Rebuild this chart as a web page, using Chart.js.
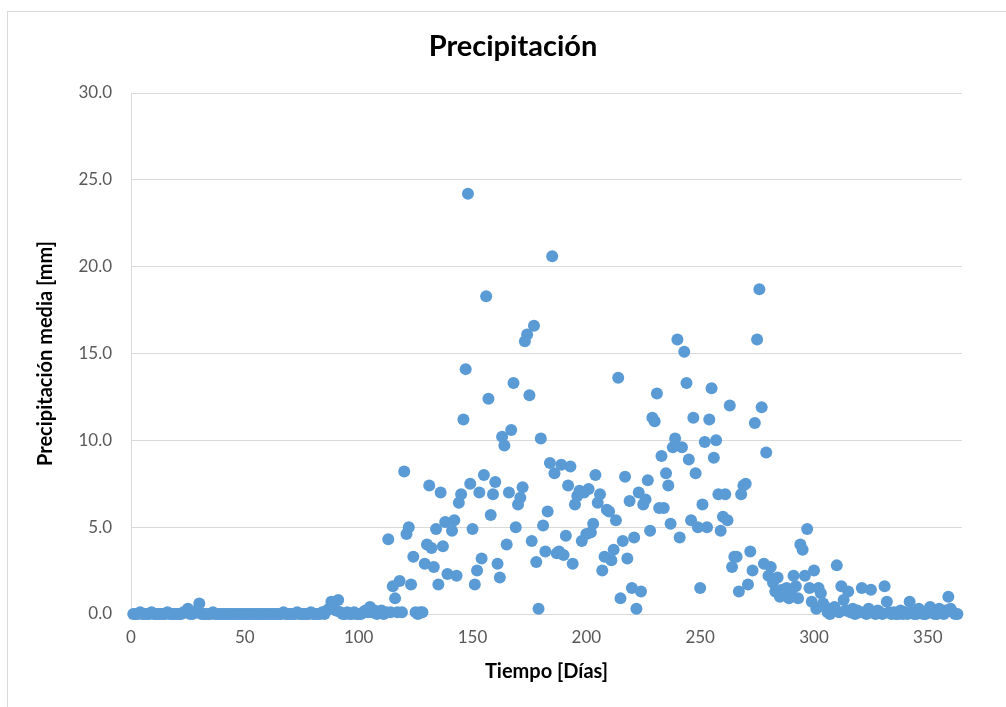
<!DOCTYPE html>
<html>
<head>
<meta charset="utf-8">
<script src="https://cdn.jsdelivr.net/npm/chart.js@4"></script>
<style>
  html, body { margin: 0; padding: 0; background: #fff; }
  #wrap { position: relative; width: 1006px; height: 707px; }
  #marco { position: absolute; left: 7px; top: 11px; right: 0; bottom: 0;
           border-top: 1px solid #d9d9d9; border-left: 1px solid #d9d9d9; }
  canvas { position: absolute; left: 0; top: 0; }
</style>
</head>
<body>
<div id="wrap">
  <div id="marco"></div>
  <canvas id="myChart" width="1006" height="707"></canvas>
</div>
<script>
// Precipitación media diaria [mm], día 1 .. 363 (null = punto no legible)
const precipitacion = [
  0, 0, 0, 0.1, 0, 0, 0, 0, 0.1, 0, 0,
  0, 0, 0, 0, 0.1, 0, 0, 0, 0, 0,
  0, 0.1, 0.1, 0.3, 0, 0, 0.1, 0.2, 0.6, 0,
  0, 0, 0, 0, 0.1, 0, 0, 0, 0, 0,
  0, 0, 0, 0, 0, 0, 0, 0, 0, 0,
  0, 0, 0, 0, 0, 0, 0, 0, 0, 0,
  0, 0, 0, 0, 0, 0.1, 0, 0, 0, 0,
  0, 0.1, 0, 0, 0, 0, 0, 0.1, 0, 0,
  0, 0, 0.1, 0, 0.2, 0.3, 0.7, 0.4, 0.2, 0.8,
  0.1, 0, 0, 0.1, 0, 0, 0.1, 0, 0, 0,
  0.1, 0.2, 0.1, 0.4, 0.1, 0.2, 0, 0.1, 0.2, 0,
  0.1, 4.3, 0.1, 1.6, 0.9, 0.1, 1.9, 0.1, 8.2, 4.6,
  5.0, 1.7, 3.3, 0.1, 0, 0.1, 0.1, 2.9, 4.0, 7.4,
  3.8, 2.7, 4.9, 1.7, 7.0, 3.9, 5.3, 2.3, null, 4.8,
  5.4, 2.2, 6.4, 6.9, 11.2, 14.1, 24.2, 7.5, 4.9, 1.7,
  2.5, 7.0, 3.2, 8.0, 18.3, 12.4, 5.7, 6.9, 7.6, 2.9,
  2.1, 10.2, 9.7, 4.0, 7.0, 10.6, 13.3, 5.0, 6.3, 6.7,
  7.3, 15.7, 16.1, 12.6, 4.2, 16.6, 3.0, 0.3, 10.1, 5.1,
  3.6, 5.9, 8.7, 20.6, 8.1, 3.5, 3.6, 8.6, 3.4, 4.5,
  7.4, 8.5, 2.9, 6.3, 6.8, 7.1, 4.2, 7.0, 4.6, 7.2,
  4.7, 5.2, 8.0, 6.4, 6.9, 2.5, 3.3, 6.0, 5.9, 3.1,
  3.7, 5.4, 13.6, 0.9, 4.2, 7.9, 3.2, 6.5, 1.5, 4.4,
  0.3, 7.0, 1.3, 6.3, 6.6, 7.7, 4.8, 11.3, 11.1, 12.7,
  6.1, 9.1, 6.1, 8.1, 7.4, 5.2, 9.6, 10.1, 15.8, 4.4,
  9.6, 15.1, 13.3, 8.9, 5.4, 11.3, 8.1, 5.0, 1.5, 6.3,
  9.9, 5.0, 11.2, 13.0, 9.0, 10.0, 6.9, 4.8, 5.6, 6.9,
  5.4, 12.0, 2.7, 3.3, 3.3, 1.3, 6.9, 7.4, 7.5, 1.7,
  3.6, 2.5, 11.0, 15.8, 18.7, 11.9, 2.9, 9.3, 2.2, 2.7,
  1.8, 1.3, 2.1, 1.0, 1.4, 1.1, 1.5, 0.9, 1.2, 2.2,
  1.6, 0.9, 4.0, 3.7, 2.2, 4.9, 1.5, 0.7, 2.5, 0.3,
  1.5, 1.2, 0.6, 0.4, 0.1, 0, 0.2, 0.4, 2.8, 0.1,
  1.6, 0.8, 0.2, 1.3, 0.1, 0.3, 0, 0.2, 0.1, 1.5,
  0.1, 0, 0.3, 1.4, 0.1, 0, 0.2, 0.1, 0, 1.6,
  0.7, 0.1, 0, 0.1, 0, 0, 0.2, 0, 0.1, 0,
  0.7, 0.1, 0, 0, 0.3, 0.1, 0, 0, 0.2, 0.4,
  0.1, 0, 0, 0.3, 0.1, 0, 0.2, 1.0, 0.3, 0.1,
  0, 0
];
// número de día de cada valor
const dias = precipitacion.map((v, i) => i + 1);

const ticksX = [0, 50, 100, 150, 200, 250, 300, 350];
const ticksY = [0, 5, 10, 15, 20, 25, 30];

const titulo = 'Precipitación';

const puntos = dias.map((d, i) => ({ x: d, y: precipitacion[i] }));

const fuente = "Lato, 'Open Sans', sans-serif";

// el título va centrado sobre todo el gráfico (como en Excel), no sólo sobre el área de la izquierda
const tituloCentrado = {
  id: 'tituloCentrado',
  afterDraw(chart) {
    const c = chart.ctx;
    c.save();
    c.font = 'bold 29px ' + fuente;
    c.fillStyle = '#000';
    c.textAlign = 'center';
    c.textBaseline = 'middle';
    c.fillText(titulo, 513, 47);
    c.restore();
  }
};

const ctx = document.getElementById('myChart').getContext('2d');
const chart = new Chart(ctx, {
  type: 'scatter',
  data: {
    datasets: [{
      label: titulo,
      data: puntos,
      backgroundColor: '#5B9BD5',
      borderWidth: 0,
      pointRadius: 6,
      pointHoverRadius: 6,
      clip: false
    }]
  },
  options: {
    responsive: false,
    animation: false,
    events: [],
    layout: { padding: { left: 0, right: 44, top: 93, bottom: 0 } },
    plugins: {
      legend: { display: false },
      tooltip: { enabled: false },
      title: { display: false }
    },
    scales: {
      x: {
        type: 'linear',
        min: 0,
        max: 365,
        afterFit: s => { s.height = 93; },
        afterBuildTicks: s => { s.ticks = ticksX.map(v => ({ value: v })); },
        grid: { display: false, drawTicks: false },
        border: { display: true, color: '#d9d9d9', width: 1 },
        ticks: {
          padding: 13,
          color: '#595959',
          font: { family: fuente, size: 17 },
          maxRotation: 0,
          autoSkip: false
        },
        title: {
          display: true,
          text: 'Tiempo [Días]',
          color: '#000',
          font: { family: fuente, size: 20, weight: 'bold' },
          padding: { top: 0, bottom: 23 }
        }
      },
      y: {
        min: 0,
        max: 30,
        afterFit: s => { s.width = 131; },
        afterBuildTicks: s => { s.ticks = ticksY.map(v => ({ value: v })); },
        grid: { color: '#d9d9d9', drawTicks: false },
        border: { display: true, color: '#d9d9d9', width: 1 },
        ticks: {
          padding: 19,
          color: '#595959',
          font: { family: fuente, size: 17 },
          callback: v => v.toFixed(1)
        },
        title: {
          display: true,
          text: 'Precipitación media [mm]',
          color: '#000',
          font: { family: fuente, size: 20, weight: 'bold' },
          padding: { top: 34, bottom: 0 }
        }
      }
    }
  },
  plugins: [tituloCentrado]
});
</script>
</body>
</html>
